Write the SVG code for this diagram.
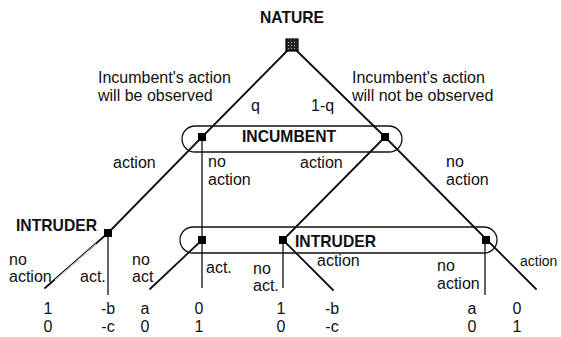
<svg xmlns="http://www.w3.org/2000/svg" width="561" height="337" viewBox="0 0 561 337">
<defs>
<pattern id="hatch" width="3" height="3" patternUnits="userSpaceOnUse">
<rect width="3" height="3" fill="#222"/>
<rect width="1" height="1" fill="#aaa"/>
</pattern>
</defs>
<style>
text{font-family:"Liberation Sans",Arial,sans-serif;font-size:16px;fill:#111}
.b{font-weight:bold;font-size:15.7px}
.m{text-anchor:middle}
.e{fill:none;stroke:#111;stroke-width:1.8;stroke-linecap:round}
.v{fill:none;stroke:#111;stroke-width:1.3}
.box{fill:none;stroke:#111;stroke-width:1.3}
.n{fill:#000}
</style>
<rect width="561" height="337" fill="#fff"/>
<g id="connectors">
<polyline class="e" points="287,51 202,137 108,233"/>
<line class="e" x1="108" y1="233" x2="45" y2="288" stroke-width="4"/>
<line x1="96" y1="244" x2="55" y2="280" stroke="#fff" stroke-width="0.9"/>
<line class="v" x1="108" y1="233" x2="108" y2="295"/>
<line class="v" x1="202" y1="137" x2="202" y2="288"/>
<line class="e" x1="202" y1="240" x2="150" y2="289"/>
<polyline class="e" points="297,51 385,137 487,240 536,289"/>
<line class="e" x1="385" y1="137" x2="283" y2="240"/>
<line class="e" x1="283" y1="240" x2="333" y2="290"/>
<line class="v" x1="283" y1="240" x2="283" y2="288"/>
<line class="v" x1="485" y1="240" x2="485" y2="295"/>
</g>
<g id="nature"><rect x="286" y="39" width="12" height="12" fill="url(#hatch)" stroke="#000" stroke-width="1.2"/><text class="b m" x="292" y="23">NATURE</text></g>
<g id="incumbent-set"><rect class="box" x="182" y="126" width="220" height="26" rx="13"/><text class="b" x="242" y="142">INCUMBENT</text></g>
<g id="incumbent-left"><rect class="n" x="198" y="133" width="8" height="8"/></g>
<g id="incumbent-right"><rect class="n" x="381" y="133" width="8" height="8"/></g>
<g id="intruder-left"><rect class="n" x="104" y="229" width="8" height="8"/><text class="b" x="16" y="231">INTRUDER</text></g>
<g id="intruder-set"><rect class="box" x="180" y="227" width="317" height="26" rx="13"/><text class="b" x="295" y="247">INTRUDER</text></g>
<g id="intruder-a"><rect class="n" x="198" y="236" width="8" height="8"/></g>
<g id="intruder-b"><rect class="n" x="279" y="236" width="8" height="8"/></g>
<g id="intruder-c"><rect class="n" x="482" y="236" width="8" height="8"/></g>
<g id="labels">
<text x="98" y="83">Incumbent's action</text>
<text x="98" y="101">will be observed</text>
<text x="352" y="83">Incumbent's action</text>
<text x="352" y="101">will not be observed</text>
<text x="251" y="111">q</text>
<text x="311" y="111">1-q</text>
<text x="113" y="168">action</text>
<text x="208" y="167">no</text>
<text x="208" y="185">action</text>
<text x="300" y="168">action</text>
<text x="446" y="167">no</text>
<text x="446" y="185">action</text>
<text x="9" y="265">no</text>
<text x="9" y="282">action</text>
<text x="80" y="282">act.</text>
<text x="132" y="265">no</text>
<text x="132" y="282">act</text>
<text x="206" y="273">act.</text>
<text x="253" y="274">no</text>
<text x="253" y="291">act.</text>
<text x="317" y="266">action</text>
<text x="437" y="271">no</text>
<text x="437" y="289">action</text>
<text x="520" y="266" style="font-size:14px">action</text>
</g>
<g id="payoffs">
<text class="m" x="48" y="314">1</text><text class="m" x="48" y="332">0</text>
<text class="m" x="108" y="314">-b</text><text class="m" x="108" y="332">-c</text>
<text class="m" x="145" y="314">a</text><text class="m" x="145" y="332">0</text>
<text class="m" x="199" y="314">0</text><text class="m" x="199" y="332">1</text>
<text class="m" x="281" y="314">1</text><text class="m" x="281" y="332">0</text>
<text class="m" x="332" y="314">-b</text><text class="m" x="332" y="332">-c</text>
<text class="m" x="472" y="314">a</text><text class="m" x="472" y="332">0</text>
<text class="m" x="517" y="314">0</text><text class="m" x="517" y="332">1</text>
</g>
</svg>
